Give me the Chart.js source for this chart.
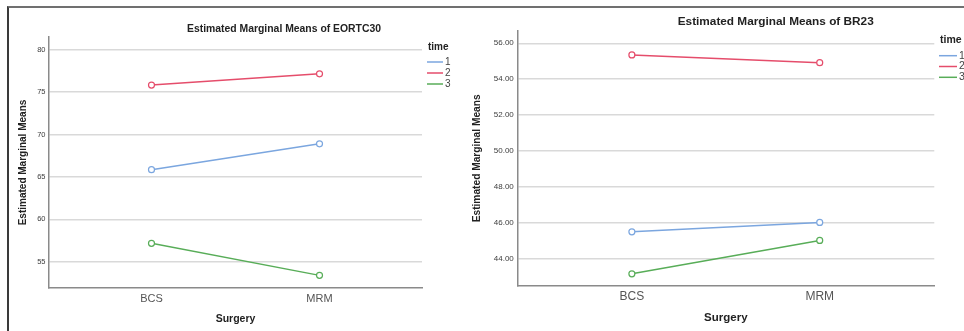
<!DOCTYPE html>
<html>
<head>
<meta charset="utf-8">
<script src="https://cdn.jsdelivr.net/npm/chart.js@4.4.1/dist/chart.umd.min.js"></script>
<style>
  html, body { margin: 0; padding: 0; background: #fff; }
  body { width: 964px; height: 331px; position: relative; overflow: hidden; }
  #frame { position: absolute; left: 7px; top: 6px; width: 980px; height: 400px;
           border-top: 2px solid #707070; border-left: 2px solid #3a3a3a; }
  canvas { position: absolute; top: 0; }
  #left { left: 0; }
  #right { left: 466px; }
</style>
</head>
<body>
<div id="frame"></div>
<canvas id="left" width="470" height="331"></canvas>
<canvas id="right" width="498" height="331"></canvas>
<script>
const categories = ['BCS', 'MRM'];
const timeLabels = ['1', '2', '3'];
const legendTitle = 'time';

const eortcTime1 = [65.85, 68.90];
const eortcTime2 = [75.83, 77.16];
const eortcTime3 = [57.17, 53.39];
const eortcTicks = [55, 60, 65, 70, 75, 80];

const br23Time1 = [45.50, 46.02];
const br23Time2 = [55.35, 54.92];
const br23Time3 = [43.16, 45.02];
const br23Ticks = [44, 46, 48, 50, 52, 54, 56];

const colors = ['#7ba6df', '#e54d6b', '#58ad58'];
const FONT = "'Liberation Sans', Arial, sans-serif";

// draws the panel title and the "time" legend at fixed spots, like SPSS does
const panelDecor = {
  id: 'panelDecor',
  afterDraw(chart, args, opts) {
    const ctx = chart.ctx;
    ctx.save();
    ctx.fillStyle = '#222';
    ctx.font = 'bold ' + opts.titleSize + 'px ' + FONT;
    ctx.textAlign = 'center';
    ctx.textBaseline = 'middle';
    ctx.fillText(opts.title, opts.titleX, opts.titleY);

    ctx.textAlign = 'left';
    ctx.font = 'bold ' + opts.legendSize + 'px ' + FONT;
    ctx.fillText(legendTitle, opts.legendX + 1, opts.legendY);
    ctx.font = opts.legendSize + 'px ' + FONT;
    chart.data.datasets.forEach((ds, i) => {
      const y = opts.legendY + opts.itemStart + i * opts.itemGap;
      ctx.strokeStyle = ds.borderColor;
      ctx.lineWidth = 1.5;
      ctx.beginPath();
      ctx.moveTo(opts.legendX, y);
      ctx.lineTo(opts.legendX + opts.lineLen, y);
      ctx.stroke();
      ctx.fillStyle = '#444';
      ctx.fillText(ds.label, opts.legendX + opts.lineLen + 2, y);
    });
    ctx.restore();
  }
};

function makeChart(canvasId, series, ticks, yRange, p) {
  const datasets = series.map((vals, i) => ({
    label: timeLabels[i],
    data: vals.map((v, j) => ({ x: j, y: v })),
    borderColor: colors[i],
    backgroundColor: '#ffffff',
    borderWidth: 1.5,
    pointRadius: 3,
    pointBorderWidth: 1.2,
    pointBackgroundColor: '#ffffff',
    pointBorderColor: colors[i],
    tension: 0
  }));

  return new Chart(document.getElementById(canvasId), {
    type: 'line',
    data: { datasets },
    plugins: [panelDecor],
    options: {
      responsive: false,
      animation: false,
      devicePixelRatio: 1,
      layout: { padding: p.padding },
      plugins: {
        legend: { display: false },
        tooltip: { enabled: false },
        panelDecor: p.decor
      },
      scales: {
        x: {
          type: 'linear',
          min: -0.61,
          max: 1.61,
          afterBuildTicks: s => { s.ticks = categories.map((c, i) => ({ value: i })); },
          afterFit: s => { s.height = p.xHeight; },
          grid: { display: false, drawTicks: false },
          border: { color: '#8a8a8a', width: 1.5 },
          ticks: {
            padding: p.xTickPad,
            color: '#555',
            font: { family: FONT, size: p.catSize },
            callback: v => categories[v]
          },
          title: {
            display: true,
            text: 'Surgery',
            color: '#222',
            font: { family: FONT, size: p.axisTitleSize, weight: 'bold' },
            padding: { top: 0, bottom: p.xTitlePad }
          }
        },
        y: {
          min: yRange[0],
          max: yRange[1],
          afterBuildTicks: s => { s.ticks = ticks.map(v => ({ value: v })); },
          afterFit: s => { s.width = p.yWidth; },
          grid: { color: '#d9d9d9', lineWidth: 1.5, drawTicks: false },
          border: { color: '#8a8a8a', width: 1.5 },
          ticks: {
            padding: 3.5,
            color: '#3c3c3c',
            font: { family: FONT, size: p.tickSize },
            callback: v => p.decimals ? v.toFixed(2) : String(v)
          },
          title: {
            display: true,
            text: 'Estimated Marginal Means',
            color: '#222',
            font: { family: FONT, size: p.yTitleSize, weight: 'bold' },
            padding: { top: p.yTitlePad, bottom: 0 }
          }
        }
      }
    }
  });
}

makeChart('left', [eortcTime1, eortcTime2, eortcTime3], eortcTicks, [51.9, 81.5], {
  padding: { left: 10, top: 37, right: 48, bottom: 0 },
  yWidth: 39, xHeight: 43, xTickPad: 4, xTitlePad: 6, yTitlePad: 7,
  catSize: 11, tickSize: 7.5, axisTitleSize: 10.5, yTitleSize: 10, decimals: false,
  decor: { title: 'Estimated Marginal Means of EORTC30', titleX: 284, titleY: 29, titleSize: 10.4,
           legendX: 427, legendY: 47, itemStart: 15, itemGap: 11, lineLen: 16, legendSize: 10 }
});

makeChart('right', [br23Time1, br23Time2, br23Time3], br23Ticks, [42.48, 56.7], {
  padding: { left: 0, top: 30.7, right: 29.7, bottom: 0 },
  yWidth: 51.3, xHeight: 45, xTickPad: 3.5, xTitlePad: 6.5, yTitlePad: 4.7,
  catSize: 12, tickSize: 8, axisTitleSize: 11.5, yTitleSize: 10.2, decimals: true,
  decor: { title: 'Estimated Marginal Means of BR23', titleX: 309.7, titleY: 22, titleSize: 11.8,
           legendX: 473, legendY: 40, itemStart: 15.7, itemGap: 10.8, lineLen: 18, legendSize: 10.5 }
});
</script>
</body>
</html>
